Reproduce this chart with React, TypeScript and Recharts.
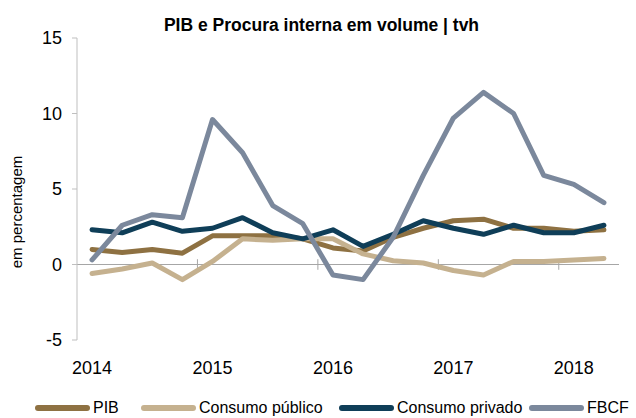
import React from 'react';
import { LineChart, Line, XAxis, YAxis, ReferenceLine, Legend } from 'recharts';

const quarters = [
  '2014T1', '2014T2', '2014T3', '2014T4',
  '2015T1', '2015T2', '2015T3', '2015T4',
  '2016T1', '2016T2', '2016T3', '2016T4',
  '2017T1', '2017T2', '2017T3', '2017T4',
  '2018T1', '2018T2',
];
const yearLabels = ['2014', '2015', '2016', '2017', '2018'];
const yTicks = [-5, 0, 5, 10, 15];

const pib = [1.0, 0.8, 1.0, 0.75, 1.9, 1.9, 1.9, 1.7, 1.1, 0.9, 1.8, 2.4, 2.9, 3.0, 2.4, 2.4, 2.2, 2.3];
const consumoPublico = [-0.6, -0.3, 0.1, -1.0, 0.2, 1.7, 1.6, 1.7, 1.7, 0.7, 0.25, 0.1, -0.4, -0.7, 0.2, 0.2, 0.3, 0.4];
const consumoPrivado = [2.3, 2.1, 2.8, 2.2, 2.4, 3.1, 2.1, 1.7, 2.3, 1.2, 2.0, 2.9, 2.4, 2.0, 2.6, 2.1, 2.1, 2.6];
const fbcf = [0.3, 2.6, 3.3, 3.1, 9.6, 7.4, 3.9, 2.7, -0.7, -1.0, 1.8, 5.9, 9.7, 11.4, 10.0, 5.9, 5.3, 4.1];

const series = [
  { key: 'pib', name: 'PIB', color: '#8E7142' },
  { key: 'publico', name: 'Consumo público', color: '#C5B18F' },
  { key: 'privado', name: 'Consumo privado', color: '#0F3E58' },
  { key: 'fbcf', name: 'FBCF', color: '#7B889C' },
];

// widths of the legend slots, left to right
const legendSlots = [106, 198, 190, 107];

// x runs in quarter units: each quarter sits in the middle of its slot
const data = quarters.map((q, i) => ({
  q,
  t: i + 0.5,
  pib: pib[i],
  publico: consumoPublico[i],
  privado: consumoPrivado[i],
  fbcf: fbcf[i],
}));

const yearTicks = yearLabels.map((_, i) => i * 4 + 0.5);
const yearBounds = yearLabels.slice(1).map((_, i) => (i + 1) * 4);

const axisGray = '#A6A6A6';

const LegendContent = () => (
  <div
    style={{
      height: 20,
      display: 'flex',
      alignItems: 'center',
      flexWrap: 'nowrap',
      whiteSpace: 'nowrap',
      paddingLeft: 35,
      fontSize: 16,
      color: '#000',
    }}
  >
    {series.map((s, i) => (
      <div key={s.key} style={{ display: 'flex', alignItems: 'center', flexShrink: 0, width: legendSlots[i] }}>
        <span
          style={{
            display: 'inline-block',
            width: 55,
            height: 6,
            borderRadius: 3,
            background: s.color,
            marginRight: 3,
          }}
        />
        <span>{s.name}</span>
      </div>
    ))}
  </div>
);

const YLabel = ({ viewBox }: any) => {
  const x = viewBox.x + 22;
  const y = viewBox.y + viewBox.height / 2 + 23;
  return (
    <text x={x} y={y} transform={`rotate(-90, ${x}, ${y})`} textAnchor="middle" fontSize={15} fill="#000">
      em percentagem
    </text>
  );
};

export default function App() {
  return (
    <div
      style={{
        position: 'absolute',
        left: 0,
        top: 0,
        width: 636,
        height: 418,
        background: '#fff',
        fontFamily: '"Liberation Sans", Arial, sans-serif',
        overflow: 'hidden',
      }}
    >
      <div
        style={{
          position: 'absolute',
          top: 15,
          left: 0,
          width: 643,
          height: 20,
          lineHeight: '20px',
          textAlign: 'center',
          fontWeight: 'bold',
          fontSize: 17.5,
          color: '#000',
        }}
      >
        PIB e Procura interna em volume | tvh
      </div>
      <LineChart width={636} height={418} data={data} margin={{ top: 38, right: 17, bottom: 0, left: 0 }}>
        <XAxis
          dataKey="t"
          type="number"
          domain={[0, 18]}
          ticks={yearTicks}
          tickFormatter={(v: number) => yearLabels[Math.floor(v / 4)]}
          axisLine={false}
          tickLine={false}
          tickSize={0}
          tickMargin={21}
          height={58}
          tick={{ fontSize: 18, fill: '#000' }}
          interval={0}
        />
        <YAxis
          domain={[-5, 15]}
          ticks={yTicks}
          interval={0}
          width={77}
          axisLine={{ stroke: '#BFBFBF' }}
          tickLine={{ stroke: '#BFBFBF' }}
          tickSize={5}
          tickMargin={10}
          tick={{ fontSize: 18, fill: '#000' }}
          label={<YLabel />}
        />
        <ReferenceLine y={0} stroke={axisGray} strokeWidth={1} />
        {yearBounds.map((b) => (
          <ReferenceLine
            key={b}
            segment={[
              { x: b, y: -0.35 },
              { x: b, y: 0.35 },
            ]}
            stroke={axisGray}
            strokeWidth={1}
          />
        ))}
        <Legend verticalAlign="bottom" height={20} content={<LegendContent />} />
        {series.map((s) => (
          <Line
            key={s.key}
            type="linear"
            dataKey={s.key}
            name={s.name}
            stroke={s.color}
            strokeWidth={5}
            strokeLinecap="round"
            strokeLinejoin="round"
            dot={false}
            activeDot={false}
            isAnimationActive={false}
          />
        ))}
      </LineChart>
    </div>
  );
}
